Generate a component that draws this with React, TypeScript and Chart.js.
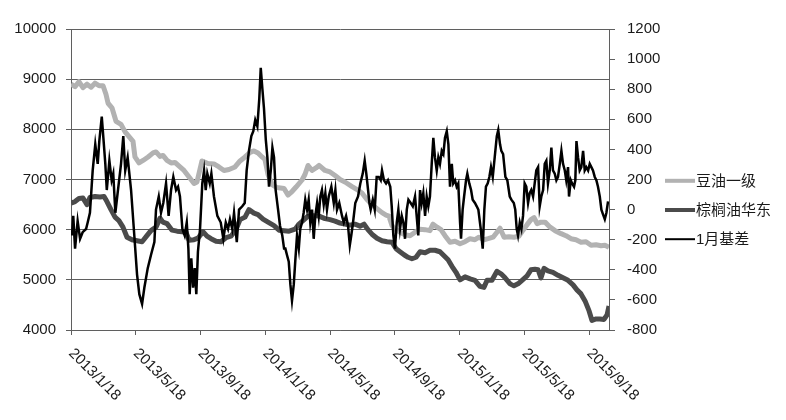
import React, { useEffect, useRef } from "react";
import { Chart, registerables } from "chart.js";

Chart.register(...registerables);

// ---- data ----
const tickMonths = [0, 4, 8, 12, 16, 20, 24, 28, 32];
const tickLabels = ["2013/1/18", "2013/5/18", "2013/9/18", "2014/1/18", "2014/5/18", "2014/9/18", "2015/1/18", "2015/5/18", "2015/9/18"];
const seriesNames = ["豆油一级", "棕榈油华东", "1月基差"];

// months since 2013/1/18
const soyMonths = [0.00,0.25,0.49,0.74,0.99,1.24,1.48,1.73,1.98,2.16,2.29,2.53,2.78,3.09,3.34,3.52,3.83,3.95,4.20,4.45,4.76,5.07,5.25,5.50,5.68,5.93,6.18,6.42,6.73,6.98,7.29,7.60,7.78,8.09,8.46,8.83,9.14,9.45,9.76,10.13,10.44,10.75,11.06,11.30,11.55,11.80,11.98,12.17,12.42,12.72,13.16,13.40,13.65,13.90,14.27,14.45,14.64,14.89,15.13,15.32,15.69,16.00,16.31,16.62,16.92,17.36,17.67,17.97,18.28,18.59,18.90,19.21,19.46,19.64,19.83,20.08,20.32,20.63,20.94,21.25,21.56,21.87,22.17,22.36,22.61,22.85,23.10,23.41,23.72,24.03,24.34,24.65,24.95,25.20,25.51,25.76,26.07,26.31,26.50,26.75,27.05,27.36,27.67,27.92,28.17,28.41,28.60,28.79,29.03,29.28,29.59,29.90,30.27,30.57,30.88,31.19,31.50,31.81,32.12,32.43,32.74,32.98,33.23];
const soyValues = [8900,8850,8950,8830,8900,8840,8920,8870,8870,8700,8520,8430,8160,8100,7950,7880,7760,7450,7330,7380,7450,7530,7550,7460,7480,7380,7330,7340,7250,7180,7050,6920,6950,7370,7320,7310,7250,7180,7200,7250,7370,7450,7540,7570,7530,7450,7400,7100,6900,6840,6820,6690,6760,6850,6990,7100,7280,7180,7230,7280,7180,7150,7080,7000,6950,6860,6800,6730,6600,6500,6420,6340,6290,6270,6080,6000,5950,5900,5880,5950,6010,6000,5980,6110,6050,6000,5880,5750,5770,5720,5760,5820,5800,5850,5800,5820,5850,5950,6030,5850,5860,5850,5870,5990,6100,6200,6240,6120,6150,6150,6050,5980,5920,5880,5820,5800,5750,5760,5690,5700,5680,5690,5650];

const palmMonths = [0.00,0.25,0.49,0.74,0.99,1.17,1.48,1.79,2.04,2.22,2.47,2.72,2.96,3.21,3.46,3.77,4.08,4.39,4.69,4.94,5.25,5.50,5.68,5.93,6.24,6.55,6.86,7.10,7.29,7.60,7.84,8.15,8.40,8.65,8.96,9.26,9.57,9.88,10.19,10.44,10.75,10.99,11.30,11.55,11.86,12.17,12.54,12.85,13.16,13.47,13.84,14.08,14.33,14.64,14.95,15.32,15.69,16.00,16.31,16.62,16.92,17.23,17.54,17.85,18.10,18.34,18.59,18.90,19.21,19.52,19.83,20.08,20.32,20.57,20.82,21.06,21.31,21.56,21.87,22.17,22.48,22.79,23.04,23.29,23.53,23.78,24.03,24.34,24.65,24.95,25.26,25.51,25.70,26.00,26.31,26.56,26.81,27.12,27.36,27.61,27.86,28.17,28.41,28.66,28.85,29.03,29.22,29.46,29.77,30.08,30.39,30.70,31.01,31.25,31.50,31.75,32.00,32.18,32.43,32.67,32.92,33.11,33.23];
const palmValues = [6530,6560,6620,6630,6500,6640,6660,6650,6660,6560,6400,6250,6180,6050,5850,5800,5780,5760,5880,5980,6050,6230,6150,6120,5990,5970,5960,5950,5790,5800,5830,5960,5870,5820,5770,5760,5840,5870,6000,6200,6250,6400,6330,6300,6210,6150,6080,5990,5980,5970,6010,6110,6180,6270,6280,6270,6220,6200,6170,6130,6110,6090,6110,6070,6110,6000,5910,5830,5780,5760,5750,5620,5560,5500,5450,5420,5450,5560,5540,5590,5590,5560,5480,5400,5270,5150,5000,5060,5020,4990,4870,4850,4990,4990,5170,5120,5040,4920,4880,4920,4990,5080,5200,5210,5200,5040,5230,5180,5150,5090,5040,4990,4900,4800,4720,4580,4380,4190,4220,4220,4210,4300,4480];

const basisMonths = [0.06,0.14,0.25,0.41,0.56,0.72,0.93,1.03,1.17,1.34,1.50,1.65,1.75,1.90,2.00,2.12,2.21,2.37,2.51,2.61,2.74,2.88,3.09,3.23,3.35,3.50,3.71,3.91,4.08,4.22,4.39,4.53,4.74,4.94,5.15,5.25,5.42,5.56,5.70,5.87,6.03,6.18,6.32,6.49,6.61,6.73,6.88,7.02,7.15,7.25,7.33,7.43,7.54,7.64,7.74,7.84,7.97,8.11,8.22,8.32,8.42,8.57,8.67,8.83,9.04,9.25,9.41,9.56,9.70,9.82,9.96,10.07,10.24,10.38,10.58,10.73,10.85,10.99,11.14,11.26,11.38,11.51,11.63,11.72,11.82,11.92,12.03,12.13,12.23,12.34,12.44,12.54,12.64,12.79,12.91,13.05,13.16,13.24,13.34,13.45,13.55,13.65,13.76,13.85,13.96,14.07,14.16,14.27,14.37,14.47,14.58,14.68,14.78,14.89,14.99,15.09,15.20,15.30,15.40,15.50,15.61,15.71,15.81,15.92,16.08,16.23,16.33,16.43,16.57,16.74,16.85,16.99,17.11,17.22,17.31,17.42,17.56,17.73,17.87,18.02,18.14,18.24,18.35,18.43,18.51,18.64,18.76,18.88,19.01,19.13,19.21,19.33,19.46,19.58,19.72,19.81,19.91,20.01,20.12,20.22,20.32,20.43,20.53,20.63,20.74,20.84,20.98,21.11,21.25,21.35,21.45,21.56,21.66,21.76,21.87,21.97,22.07,22.17,22.28,22.38,22.48,22.59,22.69,22.79,22.90,23.00,23.10,23.21,23.31,23.41,23.52,23.61,23.72,23.82,23.92,24.03,24.09,24.19,24.28,24.40,24.48,24.60,24.71,24.81,24.95,25.06,25.16,25.31,25.43,25.53,25.63,25.74,25.84,25.94,26.05,26.17,26.30,26.39,26.50,26.58,26.69,26.75,26.83,26.95,27.10,27.20,27.35,27.44,27.53,27.61,27.72,27.82,27.92,28.02,28.12,28.23,28.33,28.43,28.54,28.64,28.74,28.85,28.95,29.05,29.16,29.26,29.36,29.46,29.57,29.67,29.77,29.88,29.98,30.08,30.19,30.29,30.39,30.50,30.59,30.70,30.76,30.87,30.95,31.07,31.15,31.22,31.32,31.42,31.52,31.63,31.73,31.83,31.94,32.04,32.14,32.24,32.35,32.45,32.55,32.66,32.76,32.86,32.97,33.07,33.17];
const basisValues = [-172,-42,-259,-75,-194,-150,-129,-86,-21,260,434,304,456,618,477,304,130,325,195,239,-21,109,304,488,260,347,130,-172,-432,-562,-627,-519,-389,-302,-216,0,87,-21,44,174,-42,130,217,130,152,87,-129,-172,-86,-259,-562,-324,-519,-389,-562,-280,-129,174,260,130,239,174,239,87,-42,-86,-194,-86,-129,-64,-129,-21,-216,0,22,44,260,390,488,521,596,553,737,942,803,672,467,347,152,260,412,347,130,0,-107,-172,-259,-259,-302,-346,-497,-605,-497,-346,-172,-259,-129,-86,-21,66,0,66,-86,0,-194,-42,44,-42,87,130,33,109,0,87,152,44,130,0,44,-42,-86,-42,-107,-237,-172,-86,44,87,174,239,325,239,130,44,0,66,0,217,217,195,260,195,174,195,152,22,-172,-259,-86,0,-129,-42,-86,-194,0,66,44,22,87,-42,-172,130,44,109,-42,87,22,87,304,477,347,260,347,304,390,369,477,521,434,152,304,174,195,152,174,-86,-194,0,87,195,239,174,130,66,44,22,0,-129,-259,0,152,174,217,282,217,347,488,529,434,390,369,304,217,195,87,66,44,0,-129,-172,-86,-129,-42,174,152,44,109,130,87,174,260,282,22,87,130,304,325,174,260,412,260,239,195,217,304,390,304,260,195,282,87,195,174,152,195,455,347,260,282,390,260,282,260,304,282,260,217,195,152,87,0,-32,-64,-21,55];

const leftTicks = { min: 4000, max: 10000, step: 1000 };
const rightTicks = { min: -800, max: 1200, step: 200 };

// ---- styles ----
const FONT_FAMILY = '"Liberation Sans", Arial, "Noto Sans CJK SC", sans-serif';
const FONT = `15px ${FONT_FAMILY}`;
const GRID = "#5f5f5f";
const TEXT = "#1a1a1a";
const COLORS = ["#b2b2b2", "#4b4b4b", "#000000"];
const WIDTHS = [5, 5, 2.5];
const LEGEND_WIDTHS = [4, 4, 2];

const overlayPlugin = {
  id: "overlay",
  afterDraw(chart: any) {
    const ctx = chart.ctx;
    const xs = chart.scales.x;
    const area = chart.chartArea;
    ctx.save();
    ctx.font = FONT;
    ctx.fillStyle = TEXT;
    // rotated x labels
    tickMonths.forEach((m, i) => {
      const px = xs.getPixelForValue(m);
      ctx.save();
      ctx.translate(px, area.bottom + 21);
      ctx.rotate(Math.PI / 4);
      ctx.textAlign = "left";
      ctx.textBaseline = "middle";
      ctx.fillText(tickLabels[i], 0, 0);
      ctx.restore();
    });
    // legend
    const lx = area.right + 56;
    const cy = chart.height / 2;
    seriesNames.forEach((name, i) => {
      const y = cy + (i - 1) * 29.2;
      ctx.beginPath();
      ctx.strokeStyle = COLORS[i];
      ctx.lineWidth = LEGEND_WIDTHS[i];
      ctx.moveTo(lx, y);
      ctx.lineTo(lx + 30, y);
      ctx.stroke();
      ctx.textAlign = "left";
      ctx.textBaseline = "middle";
      ctx.fillText(name, lx + 31, y + 1);
    });
    ctx.restore();
  },
};

export default function App() {
  const ref = useRef<HTMLCanvasElement | null>(null);

  useEffect(() => {
    if (!ref.current) return;
    const toPts = (xs: number[], ys: number[]) => xs.map((x, i) => ({ x, y: ys[i] }));
    const chart = new Chart(ref.current, {
      type: "line",
      data: {
        datasets: [
          {
            label: seriesNames[0],
            data: toPts(soyMonths, soyValues),
            borderColor: COLORS[0],
            borderWidth: WIDTHS[0],
            pointRadius: 0,
            yAxisID: "y",
            order: 2,
            borderJoinStyle: "round",
          },
          {
            label: seriesNames[1],
            data: toPts(palmMonths, palmValues),
            borderColor: COLORS[1],
            borderWidth: WIDTHS[1],
            pointRadius: 0,
            yAxisID: "y",
            order: 1,
            borderJoinStyle: "round",
          },
          {
            label: seriesNames[2],
            data: toPts(basisMonths, basisValues),
            borderColor: COLORS[2],
            borderWidth: WIDTHS[2],
            pointRadius: 0,
            yAxisID: "y1",
            order: 0,
          },
        ],
      },
      options: {
        animation: false,
        responsive: false,
        devicePixelRatio: 1,
        layout: { padding: { top: 14, right: 109, left: 0, bottom: 0 } },
        plugins: { legend: { display: false }, tooltip: { enabled: false } },
        scales: {
          x: {
            type: "linear",
            min: 0,
            max: 33.23,
            afterBuildTicks: (s: any) => {
              s.ticks = tickMonths.map((v) => ({ value: v }));
            },
            afterFit: (s: any) => {
              s.height = 82;
            },
            ticks: { display: false },
            grid: { drawOnChartArea: false, drawTicks: true, tickLength: 5, color: GRID },
            border: { color: GRID, width: 1 },
          },
          y: {
            position: "left",
            min: leftTicks.min,
            max: leftTicks.max,
            afterFit: (s: any) => {
              s.width = 63;
            },
            ticks: {
              stepSize: leftTicks.step,
              padding: 10,
              color: TEXT,
              font: { family: FONT_FAMILY, size: 15 },
              callback: (v: any) => String(v),
            },
            grid: { color: GRID, tickLength: 5, lineWidth: 1 },
            border: { color: GRID, width: 1 },
          },
          y1: {
            position: "right",
            min: rightTicks.min,
            max: rightTicks.max,
            afterFit: (s: any) => {
              s.width = 60;
            },
            ticks: {
              stepSize: rightTicks.step,
              padding: 12,
              color: TEXT,
              font: { family: FONT_FAMILY, size: 15 },
              callback: (v: any) => String(v),
            },
            grid: { drawOnChartArea: false, color: GRID, tickLength: 6 },
            border: { color: GRID, width: 1 },
          },
        },
      },
      plugins: [overlayPlugin],
    });
    return () => chart.destroy();
  }, []);

  return (
    <div style={{ width: 770, height: 404 }}>
      <canvas ref={ref} width={770} height={404} style={{ display: "block" }} />
    </div>
  );
}
